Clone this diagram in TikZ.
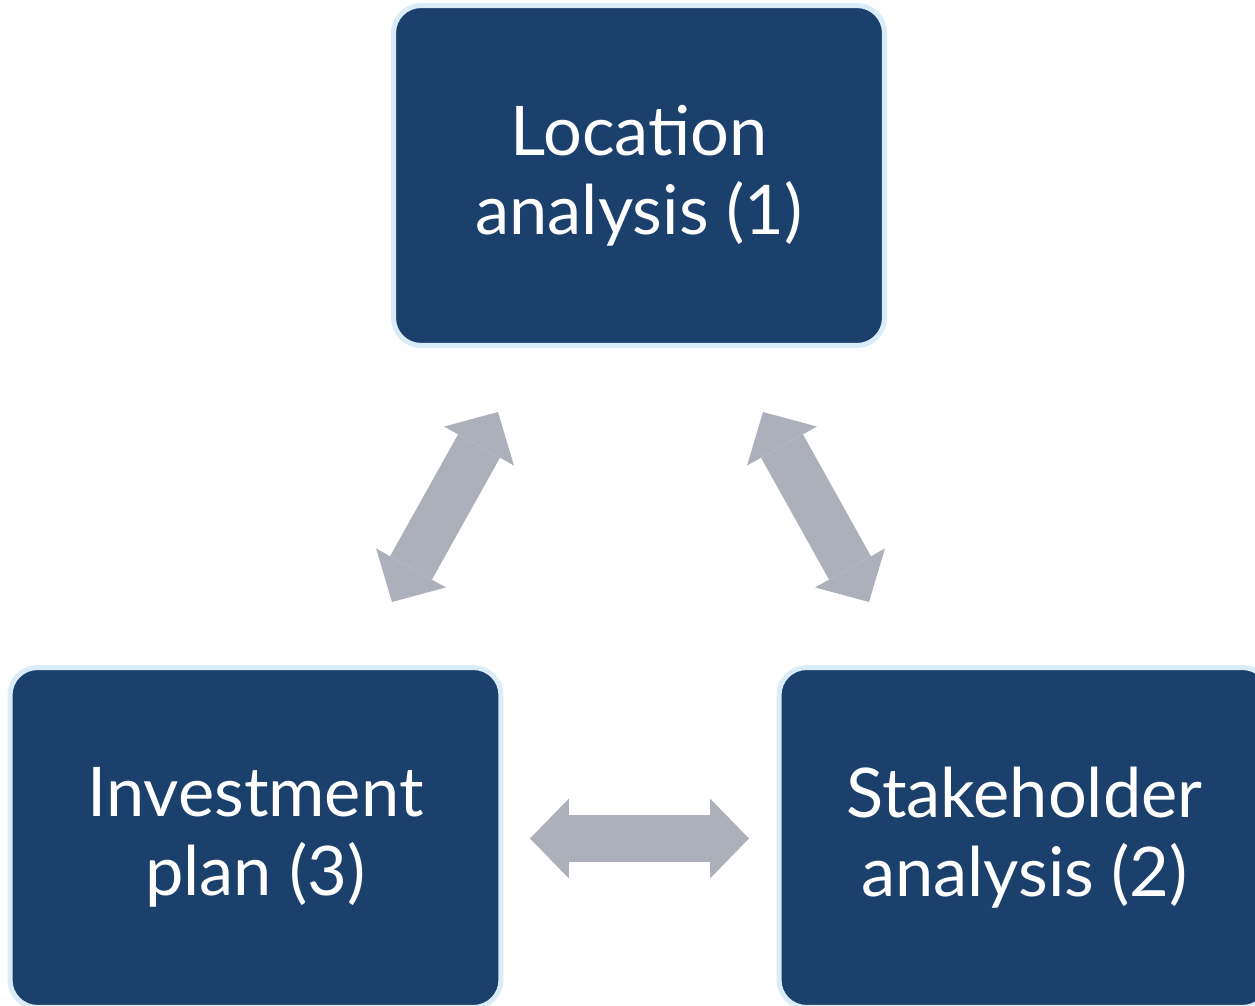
\documentclass[tikz,border=0pt]{standalone}
\usepackage{fontspec}
\setmainfont{Lato}
\usetikzlibrary{arrows.meta}
\definecolor{boxblue}{RGB}{27,64,108}
\definecolor{boxrim}{RGB}{218,236,248}
\definecolor{linkgray}{RGB}{172,176,186}

\begin{document}
\begin{tikzpicture}[x=0.02cm, y=-0.02cm,
    stage/.style={rectangle, rounded corners=0.55cm, fill=boxblue,
        draw=boxrim, line width=0.1cm, minimum width=9.82cm,
        minimum height=6.8cm, text=white, align=center,
        font=\fontsize{39}{45}\selectfont},
    link/.style={linkgray, line width=0.96cm,
        {Triangle[length=0.78cm, width=1.6cm, line width=0pt]}-{Triangle[length=0.78cm, width=1.6cm, line width=0pt]}}
]
    \useasboundingbox (0,0) rectangle (1255,1006);
    \clip (0,0) rectangle (1255,1006);
    \node[stage] (loc) at (639,175.5) {Location\\analysis (1)};
    \node[stage] (inv) at (255.5,837.5) {Investment\\plan (3)};
    \node[stage] (stk) at (1024.5,837.5) {Stakeholder\\analysis (2)};
    \coordinate (locL) at (498,412);
    \coordinate (invT) at (392,602);
    \coordinate (locR) at (763,412);
    \coordinate (stkT) at (869,602);
    \coordinate (invR) at (530,838.5);
    \coordinate (stkL) at (749,838.5);
    \draw[link] (locL) -- (invT);
    \draw[link] (locR) -- (stkT);
    \draw[link] (invR) -- (stkL);
\end{tikzpicture}
\end{document}
